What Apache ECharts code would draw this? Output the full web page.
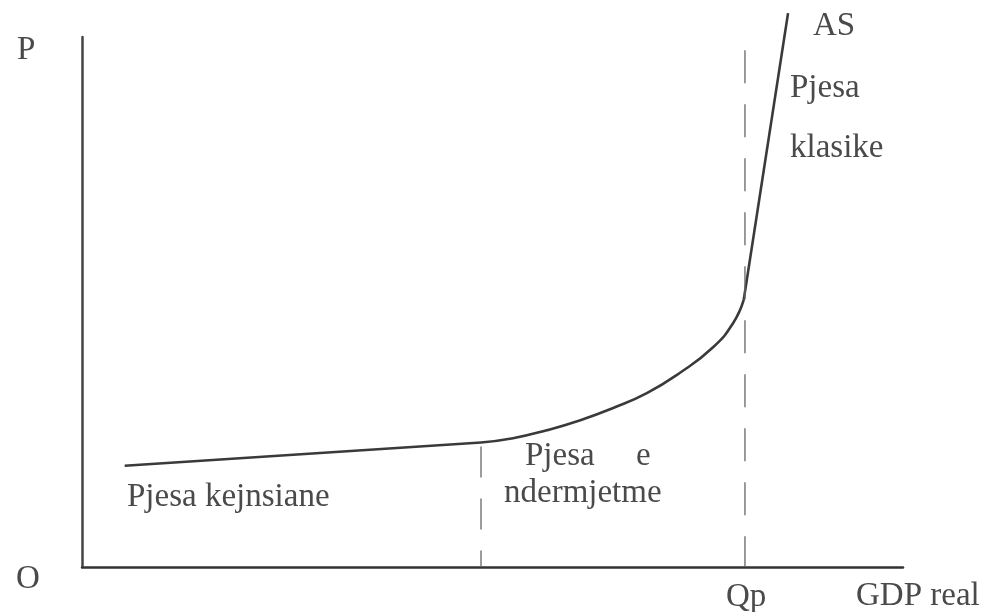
<!DOCTYPE html>
<html>
<head>
<meta charset="utf-8">
<script src="https://cdn.jsdelivr.net/npm/echarts@6/dist/echarts.min.js"></script>
<style>
  html, body { margin: 0; padding: 0; background: #fff; }
  #chart { width: 1005px; height: 612px; }
</style>
</head>
<body>
<div id="chart"></div>
<script>
    // kurba AS ne tre pjese (njesi 0-100 ne te dy boshtet)
    const keynesX = [5.2, 48.6]
    const keynesY = [19.1, 23.5]
    const midX = [48.6, 52.5, 56.6, 60.7, 64.7, 68.8, 72.8, 76.9, 79.3, 80.6]
    const midY = [23.5, 24.3, 25.8, 27.7, 30.0, 32.8, 36.6, 41.5, 46.0, 50.4]
    const classicX = [80.6, 86.0]
    const classicY = [50.4, 104.5]
    // vijat e nderprera
    const dashLeftX = 48.6
    const dashLeftTop = 23.5
    const qpX = 80.75
    const qpTop = 97.5

    const pairs = (xs, ys) => xs.map((x, i) => [x, ys[i]])

    const ink = '#3a3a3a'
    const textInk = '#4a4a4a'
    const font = "'Liberation Serif', 'DejaVu Serif', serif"

    // y = maja e tekstit
    function txt(text, x, y) {
        return {
            type: 'text',
            left: x,
            top: y,
            style: { text: text, fill: textInk, font: '33px ' + font }
        }
    }

    const chart = echarts.init(document.getElementById('chart'))
    chart.setOption({
        animation: false,
        grid: { left: 82, right: 102, top: 37, bottom: 45 },
        xAxis: {
            type: 'value', min: 0, max: 100,
            axisLine: { lineStyle: { color: '#333', width: 2.5 } },
            axisTick: { show: false }, axisLabel: { show: false }, splitLine: { show: false }
        },
        yAxis: {
            type: 'value', min: 0, max: 100,
            axisLine: { show: true, lineStyle: { color: '#444', width: 2.5 } },
            axisTick: { show: false }, axisLabel: { show: false }, splitLine: { show: false }
        },
        series: [
            {
                type: 'line', data: pairs(keynesX, keynesY), symbol: 'none',
                lineStyle: { color: ink, width: 2.6 }
            },
            {
                type: 'line', data: pairs(midX, midY), symbol: 'none', smooth: 0.5,
                lineStyle: { color: ink, width: 2.6 }
            },
            {
                type: 'line', data: pairs(classicX, classicY), symbol: 'none', clip: false,
                lineStyle: { color: ink, width: 2.6 }
            },
            {
                type: 'line', data: [[dashLeftX, dashLeftTop], [dashLeftX, 0]], symbol: 'none',
                lineStyle: { color: '#666', width: 1.3, type: [31, 21], dashOffset: -4 }
            },
            {
                type: 'line', data: [[qpX, qpTop], [qpX, 0]], symbol: 'none',
                lineStyle: { color: '#666', width: 1.3, type: [33, 21] }
            }
        ],
        graphic: [
            txt('P', 17, 34),
            txt('O', 16, 563),
            txt('AS', 813, 10),
            txt('Pjesa', 790, 72),
            txt('klasike', 790, 132),
            txt('Pjesa     e', 525, 440),
            txt('ndermjetme', 504, 477),
            txt('Pjesa kejnsiane', 127, 481),
            txt('Qp', 726, 581),
            txt('GDP real', 856, 580)
        ]
    })
</script>
</body>
</html>
